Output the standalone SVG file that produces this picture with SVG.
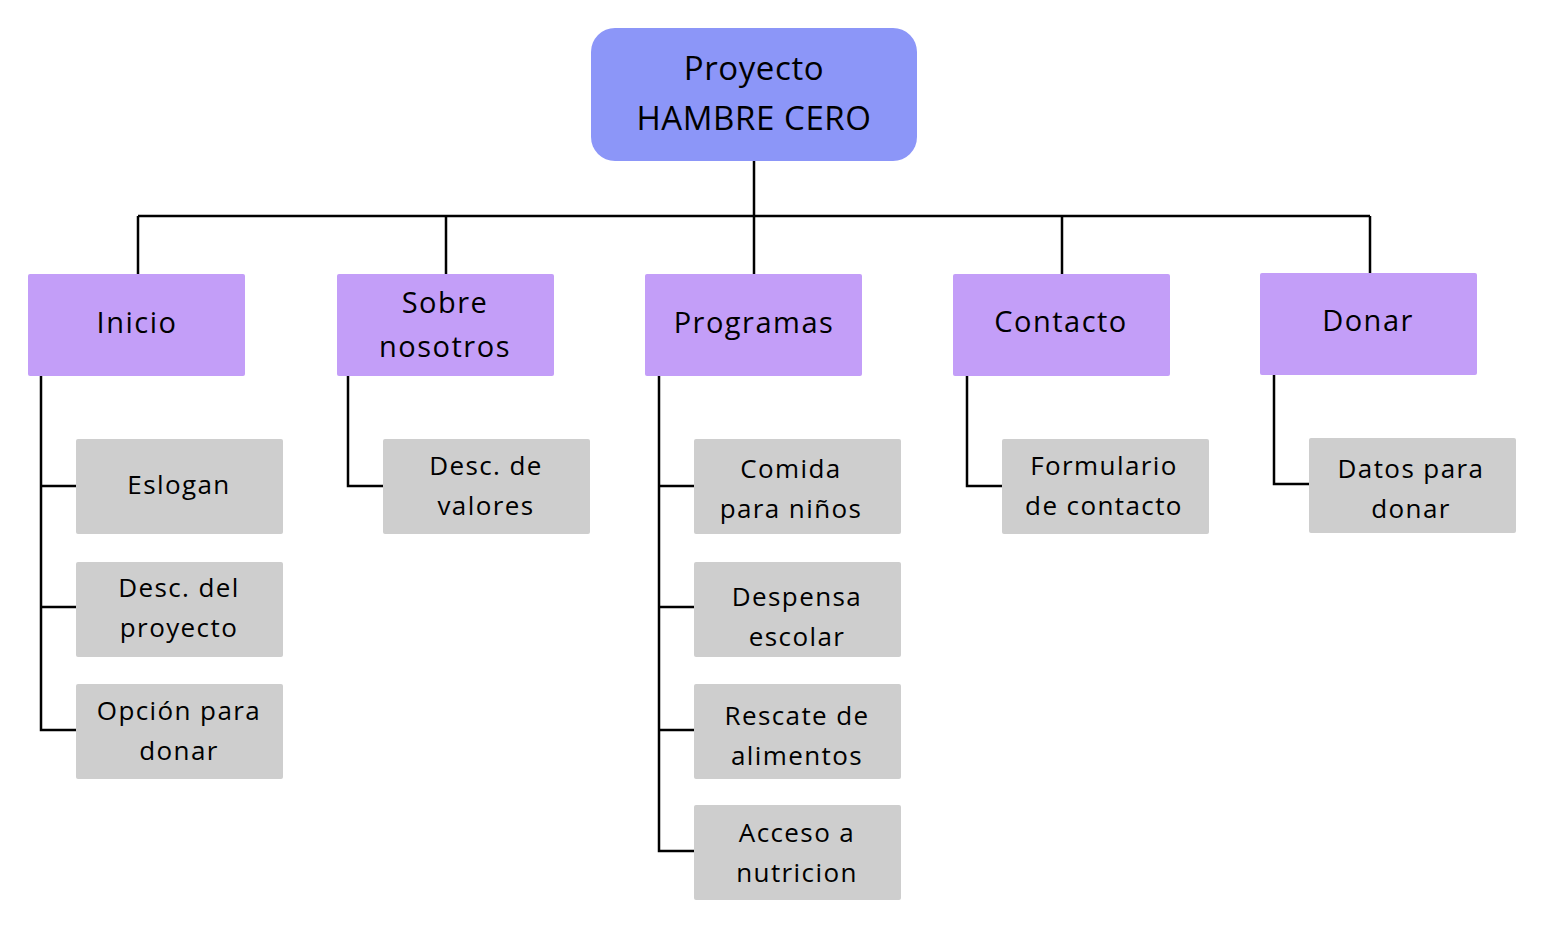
<svg xmlns="http://www.w3.org/2000/svg" width="1552" height="950" viewBox="0 0 1552 950">
<style>
.l1{fill:#C39EF8}
.l2{fill:#CECECE}
.t{font-family:"Open Sans","Liberation Sans",sans-serif;fill:#000;text-anchor:middle;font-weight:500}
.t0{font-size:33px;letter-spacing:0.6px}
.t1{font-size:29px;letter-spacing:1.5px}
.t2{font-size:26px;letter-spacing:1.4px}
.c{fill:none;stroke:#000;stroke-width:2.5}
</style>
<rect width="1552" height="950" fill="#fff"/>
<g id="connectors">
<path class="c" d="M754 161V274M138 216H1370M138 216V274M446 216V274M1062 216V274M1370 216V273"/>
<path class="c" d="M41 376V730H76M41 486H76M41 607H76"/>
<path class="c" d="M348 376V486H383"/>
<path class="c" d="M659 376V851H694M659 486H694M659 607H694M659 730H694"/>
<path class="c" d="M967 376V486H1002"/>
<path class="c" d="M1274 375V484H1309"/>
</g>
<g id="root"><rect x="591" y="28" width="326" height="133" rx="24" fill="#8C96F8"/><text class="t t0" x="754" y="80">Proyecto</text><text class="t t0" x="754" y="130">HAMBRE CERO</text></g>
<g id="inicio"><rect class="l1" x="28" y="274" width="217" height="102" rx="2"/><text class="t t1" x="137" y="333">Inicio</text></g>
<g id="sobre"><rect class="l1" x="337" y="274" width="217" height="102" rx="2"/><text class="t t1" x="445" y="313">Sobre</text><text class="t t1" x="445" y="357">nosotros</text></g>
<g id="programas"><rect class="l1" x="645" y="274" width="217" height="102" rx="2"/><text class="t t1" x="754" y="333">Programas</text></g>
<g id="contacto"><rect class="l1" x="953" y="274" width="217" height="102" rx="2"/><text class="t t1" x="1061" y="332">Contacto</text></g>
<g id="donar"><rect class="l1" x="1260" y="273" width="217" height="102" rx="2"/><text class="t t1" x="1368" y="331">Donar</text></g>
<g id="eslogan"><rect class="l2" x="76" y="439" width="207" height="95" rx="2"/><text class="t t2" x="179" y="494">Eslogan</text></g>
<g id="desc-proyecto"><rect class="l2" x="76" y="562" width="207" height="95" rx="2"/><text class="t t2" x="179" y="597">Desc. del</text><text class="t t2" x="179" y="637">proyecto</text></g>
<g id="opcion-donar"><rect class="l2" x="76" y="684" width="207" height="95" rx="2"/><text class="t t2" x="179" y="720">Opción para</text><text class="t t2" x="179" y="760">donar</text></g>
<g id="desc-valores"><rect class="l2" x="383" y="439" width="207" height="95" rx="2"/><text class="t t2" x="486" y="475">Desc. de</text><text class="t t2" x="486" y="515">valores</text></g>
<g id="comida"><rect class="l2" x="694" y="439" width="207" height="95" rx="2"/><text class="t t2" x="791" y="478">Comida</text><text class="t t2" x="791" y="518">para niños</text></g>
<g id="despensa"><rect class="l2" x="694" y="562" width="207" height="95" rx="2"/><text class="t t2" x="797" y="606">Despensa</text><text class="t t2" x="797" y="646">escolar</text></g>
<g id="rescate"><rect class="l2" x="694" y="684" width="207" height="95" rx="2"/><text class="t t2" x="797" y="725">Rescate de</text><text class="t t2" x="797" y="765">alimentos</text></g>
<g id="acceso"><rect class="l2" x="694" y="805" width="207" height="95" rx="2"/><text class="t t2" x="797" y="842">Acceso a</text><text class="t t2" x="797" y="882">nutricion</text></g>
<g id="formulario"><rect class="l2" x="1002" y="439" width="207" height="95" rx="2"/><text class="t t2" x="1104" y="475">Formulario</text><text class="t t2" x="1104" y="515">de contacto</text></g>
<g id="datos"><rect class="l2" x="1309" y="438" width="207" height="95" rx="2"/><text class="t t2" x="1411" y="478">Datos para</text><text class="t t2" x="1411" y="518">donar</text></g>
</svg>
